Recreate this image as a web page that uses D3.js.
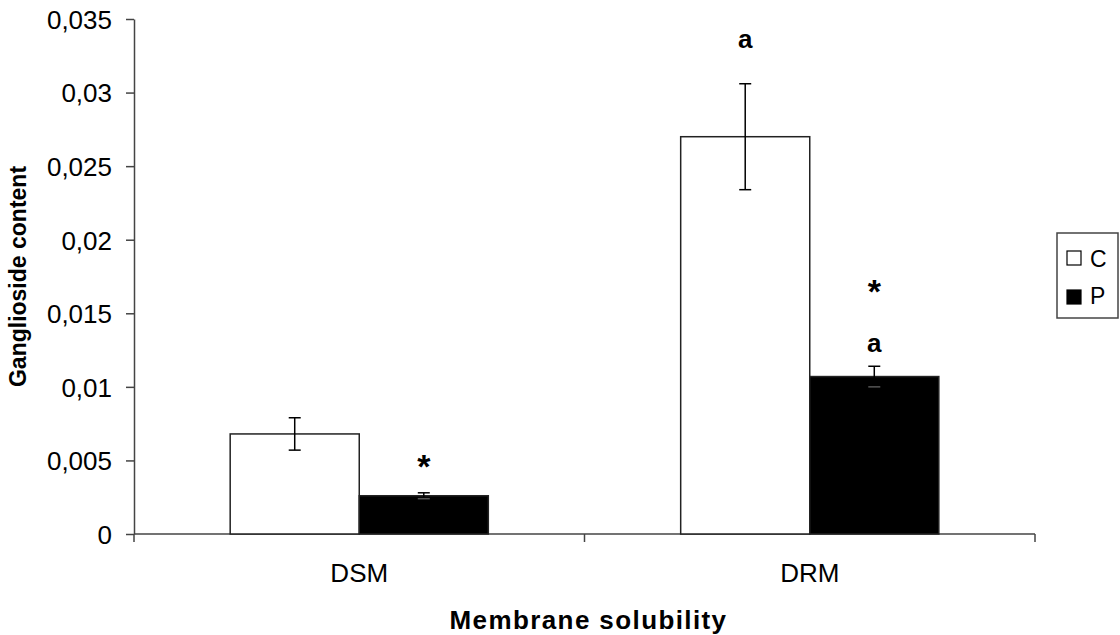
<!DOCTYPE html>
<html lang="en">
<head>
    <meta charset="UTF-8">
    <script src="https://d3js.org/d3.v7.min.js"></script>
    <title>Ganglioside content</title>
    <style>
        body { margin: 0; background: white; }
        text { font-family: "Liberation Sans", Arial, sans-serif; fill: black; }
        .axis path, .axis line { stroke: #444; stroke-width: 1.5px; }
        .axis text { font-size: 26px; }
    </style>
</head>
<body>
    <div id="chart"></div>
    <script>
        // data
        const categories = ["DSM", "DRM"];
        const groups = ["C", "P"];
        const valuesC = [0.0068, 0.0270];
        const errorsC = [0.0011, 0.0036];
        const valuesP = [0.0026, 0.0107];
        const errorsP = [0.0002, 0.0007];
        const marksC = ["", "a"];
        const marksP = [["*"], ["*", "a"]];
        const yTicks = [0, 0.005, 0.01, 0.015, 0.02, 0.025, 0.03, 0.035];

        const width = 1120, height = 635;
        const margin = { top: 19, right: 85, bottom: 101, left: 134 };

        const svg = d3.select("#chart").append("svg")
            .attr("width", width)
            .attr("height", height);

        const x0 = d3.scaleBand()
            .domain(categories)
            .range([margin.left, width - margin.right])
            .paddingInner(0.427)
            .paddingOuter(0.2135);

        const x1 = d3.scaleBand()
            .domain(groups)
            .range([0, x0.bandwidth()]);

        const y = d3.scaleLinear()
            .domain([0, 0.035])
            .range([height - margin.bottom, margin.top]);

        const fmt = d => d === 0 ? "0" : String(d).replace(".", ",");

        // y axis
        svg.append("g")
            .attr("class", "axis")
            .attr("transform", `translate(${margin.left},0)`)
            .call(d3.axisLeft(y).tickValues(yTicks).tickFormat(fmt).tickSize(8).tickPadding(14).tickSizeOuter(0))
            .call(g => g.selectAll("text").attr("dy", "0.36em"));

        // x axis with ticks between categories
        const xAxisG = svg.append("g")
            .attr("class", "axis")
            .attr("transform", `translate(0,${y(0)})`);
        xAxisG.append("line")
            .attr("x1", margin.left).attr("x2", width - margin.right)
            .attr("y1", 0).attr("y2", 0);
        const boundaries = [margin.left, (x0("DSM") + x0.bandwidth() + x0("DRM")) / 2, width - margin.right];
        xAxisG.selectAll(".tk").data(boundaries).enter().append("line")
            .attr("class", "tk")
            .attr("x1", d => d).attr("x2", d => d)
            .attr("y1", 0).attr("y2", 8);
        xAxisG.selectAll(".lbl").data(categories).enter().append("text")
            .attr("class", "lbl")
            .attr("x", d => x0(d) + x0.bandwidth() / 2)
            .attr("y", 48)
            .attr("text-anchor", "middle")
            .text(d => d);

        const series = [
            { key: "C", values: valuesC, errors: errorsC, fill: "white" },
            { key: "P", values: valuesP, errors: errorsP, fill: "black" }
        ];

        series.forEach(s => {
            const g = svg.append("g");
            g.selectAll("rect").data(categories).enter().append("rect")
                .attr("x", (d, i) => x0(d) + x1(s.key))
                .attr("y", (d, i) => y(s.values[i]))
                .attr("width", x1.bandwidth())
                .attr("height", (d, i) => y(0) - y(s.values[i]))
                .attr("fill", s.fill)
                .attr("stroke", "#222")
                .attr("stroke-width", 1.5);

            // error bars
            categories.forEach((c, i) => {
                const cx = x0(c) + x1(s.key) + x1.bandwidth() / 2;
                const hi = y(s.values[i] + s.errors[i]);
                const lo = y(s.values[i] - s.errors[i]);
                const col = s.fill === "black" ? "#555" : "black";
                const ep = g.append("g").attr("stroke", "black").attr("stroke-width", 1.5);
                ep.append("line").attr("x1", cx).attr("x2", cx).attr("y1", hi).attr("y2", lo);
                ep.append("line").attr("x1", cx - 6).attr("x2", cx + 6).attr("y1", hi).attr("y2", hi);
                ep.append("line").attr("x1", cx - 6).attr("x2", cx + 6).attr("y1", lo).attr("y2", lo)
                    .attr("stroke", col);
            });
        });

        // significance marks, offsets are above the top of the error bar
        const letterStyle = t => t.style("font-size", "26px").style("font-weight", "bold").attr("text-anchor", "middle");
        const starStyle = t => t.style("font-size", "34px").style("font-weight", "bold").attr("text-anchor", "middle");
        categories.forEach((c, i) => {
            if (marksC[i]) {
                const cx = x0(c) + x1("C") + x1.bandwidth() / 2;
                svg.append("text")
                    .attr("x", cx)
                    .attr("y", y(valuesC[i] + errorsC[i]) - 36)
                    .call(letterStyle)
                    .text(marksC[i]);
            }
            const cxP = x0(c) + x1("P") + x1.bandwidth() / 2;
            const top = y(valuesP[i] + errorsP[i]);
            marksP[i].forEach(m => {
                if (m === "a") {
                    svg.append("text").attr("x", cxP).attr("y", top - 14).call(letterStyle).text(m);
                } else {
                    const off = marksP[i].length > 1 ? 63 : 15;
                    svg.append("text").attr("x", cxP).attr("y", top - off).call(starStyle).text(m);
                }
            });
        });

        // axis titles
        svg.append("text")
            .attr("x", (margin.left + width - margin.right) / 2 + 4)
            .attr("y", 629)
            .attr("text-anchor", "middle")
            .style("font-size", "26px").style("font-weight", "bold")
            .style("letter-spacing", "1.4px")
            .text("Membrane solubility");

        svg.append("text")
            .attr("transform", `translate(26,${(margin.top + y(0)) / 2}) rotate(-90)`)
            .attr("text-anchor", "middle")
            .style("font-size", "23px").style("font-weight", "bold")
            .text("Ganglioside content");

        // legend
        const lg = svg.append("g").attr("transform", "translate(1057,233)");
        lg.append("rect")
            .attr("width", 61).attr("height", 85)
            .attr("fill", "white").attr("stroke", "#444").attr("stroke-width", 1.5);
        series.forEach((s, i) => {
            lg.append("rect")
                .attr("x", 10).attr("y", 18 + i * 39)
                .attr("width", 14).attr("height", 14)
                .attr("fill", s.fill).attr("stroke", "black").attr("stroke-width", 1.2);
            lg.append("text")
                .attr("x", 33).attr("y", 34 + i * 37)
                .style("font-size", "23px")
                .text(s.key);
        });
    </script>
</body>
</html>
